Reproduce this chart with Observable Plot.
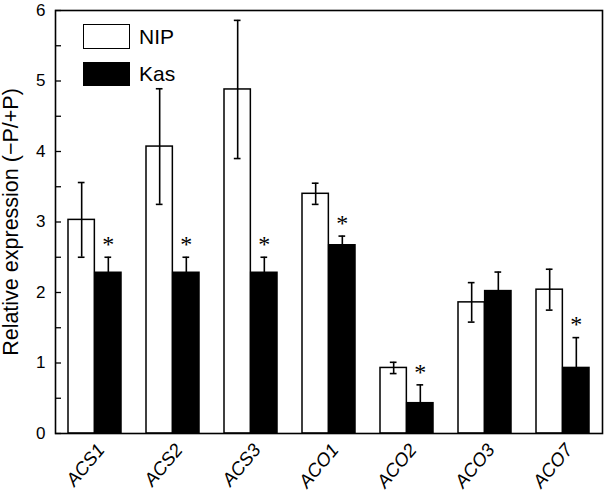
<!DOCTYPE html>
<html>
<head>
<meta charset="utf-8">
<script src="https://cdn.jsdelivr.net/npm/d3@7"></script>
<script src="https://cdn.jsdelivr.net/npm/@observablehq/plot@0.6"></script>
<style>
  html, body { margin: 0; padding: 0; background: #fff; }
  #wrap { position: relative; width: 604px; height: 497px; font-family: "Liberation Sans", Arial, Helvetica, sans-serif; }
  #wrap svg { display: block; }
  .lg-box { position: absolute; left: 83px; width: 47px; box-sizing: border-box; border: 1.5px solid #000; }
  .lg-txt { position: absolute; left: 139px; font-size: 21px; line-height: 21px; color: #000; }
</style>
</head>
<body>
<div id="wrap"></div>
<script>
// ---- data ----
const genes = ["ACS1", "ACS2", "ACS3", "ACO1", "ACO2", "ACO3", "ACO7"];
const seriesNames = ["NIP", "Kas"];
const nipMean = [3.03, 4.07, 4.88, 3.40, 0.93, 1.86, 2.04];
const nipErr  = [0.53, 0.82, 0.98, 0.15, 0.08, 0.28, 0.29];
const kasMean = [2.28, 2.28, 2.28, 2.67, 0.43, 2.02, 0.93];
const kasErr  = [0.22, 0.22, 0.22, 0.13, 0.26, 0.27, 0.43];
const kasSignificant = [true, true, true, true, true, false, true];
const yTickValues = [0, 1, 2, 3, 4, 5, 6];
const yMinorTicks = [0.5, 1.5, 2.5, 3.5, 4.5, 5.5];
const yLabel = "Relative expression (\u2212P/+P)";

// ---- layout ----
const W = 604, H = 497;
const mL = 55, mR = 2, mT = 10, mB = 64;
const plotW = W - mL - mR;
const padInner = 0.318;
const step = plotW / genes.length;
const bw = step * (1 - padInner);
const half = bw / 2;
const capHalf = 3.5;

const nip = genes.map((g, i) => ({gene: g, v: nipMean[i], e: nipErr[i]}));
const kas = genes.map((g, i) => ({gene: g, v: kasMean[i], e: kasErr[i], sig: kasSignificant[i]}));

const font = "Liberation Sans, Arial, Helvetica, sans-serif";

const chart = Plot.plot({
  width: W,
  height: H,
  marginLeft: mL,
  marginRight: mR,
  marginTop: mT,
  marginBottom: mB,
  style: {fontFamily: font, color: "#000", background: "#fff", overflow: "visible"},
  x: {domain: genes, paddingInner: padInner, paddingOuter: padInner / 2, axis: null},
  y: {domain: [0, 6], axis: null},
  marks: [
    // bars
    Plot.rectY(nip, {x: "gene", y: "v", fill: "#fff", stroke: "#000", strokeWidth: 1.5, insetRight: half}),
    Plot.rectY(kas, {x: "gene", y: "v", fill: "#000", stroke: "#000", strokeWidth: 1.5, insetLeft: half}),
    // error bars NIP
    Plot.ruleX(nip, {x: "gene", y1: d => d.v - d.e, y2: d => d.v + d.e, dx: -bw / 4, stroke: "#000", strokeWidth: 1.6}),
    Plot.tickY(nip, {x: "gene", y: d => d.v + d.e, insetLeft: bw / 4 - capHalf, insetRight: bw * 3 / 4 - capHalf, stroke: "#000", strokeWidth: 1.6}),
    Plot.tickY(nip, {x: "gene", y: d => d.v - d.e, insetLeft: bw / 4 - capHalf, insetRight: bw * 3 / 4 - capHalf, stroke: "#000", strokeWidth: 1.6}),
    // error bars Kas
    Plot.ruleX(kas, {x: "gene", y1: d => d.v, y2: d => d.v + d.e, dx: bw / 4, stroke: "#000", strokeWidth: 1.6}),
    Plot.tickY(kas, {x: "gene", y: d => d.v + d.e, insetLeft: bw * 3 / 4 - capHalf, insetRight: bw / 4 - capHalf, stroke: "#000", strokeWidth: 1.6}),
    // significance asterisks
    Plot.text(kas.filter(d => d.sig), {x: "gene", y: d => d.v + d.e, text: () => "*", dx: bw / 4, dy: -13,
      fontFamily: "Liberation Serif, Times New Roman, serif", fontSize: 24, fill: "#000"}),
    // inward y ticks
    Plot.ruleY(yTickValues.concat(yMinorTicks), {insetRight: plotW - 6, stroke: "#000", strokeWidth: 1.3}),
    // y tick labels
    Plot.text(yTickValues, {y: d => d, text: d => String(d), frameAnchor: "left", textAnchor: "end", dx: -10, fontSize: 17, fill: "#000"}),
    // x tick labels (rotated, italic)
    Plot.text(genes, {x: d => d, text: d => d, frameAnchor: "bottom", rotate: -50, textAnchor: "end", lineAnchor: "middle",
      dx: 6, dy: 13, fontSize: 18.5, fontStyle: "italic", fill: "#000"}),
    // y axis title
    Plot.text([yLabel], {frameAnchor: "left", rotate: -90, textAnchor: "middle", lineAnchor: "middle", dx: -44, fontSize: 21.5, fill: "#000", text: d => d}),
    Plot.frame({stroke: "#000", strokeWidth: 1.6})
  ]
});

const wrap = document.getElementById("wrap");
wrap.appendChild(chart);

// legend (inside plot, top-left)
const legendTops = [{box: 24, h: 25, txt: 26}, {box: 62, h: 24, txt: 63}];
seriesNames.forEach((name, i) => {
  const b = document.createElement("div");
  b.className = "lg-box";
  b.style.top = legendTops[i].box + "px";
  b.style.height = legendTops[i].h + "px";
  b.style.background = i === 0 ? "#fff" : "#000";
  wrap.appendChild(b);
  const t = document.createElement("div");
  t.className = "lg-txt";
  t.style.top = legendTops[i].txt + "px";
  t.textContent = name;
  wrap.appendChild(t);
});
</script>
</body>
</html>
